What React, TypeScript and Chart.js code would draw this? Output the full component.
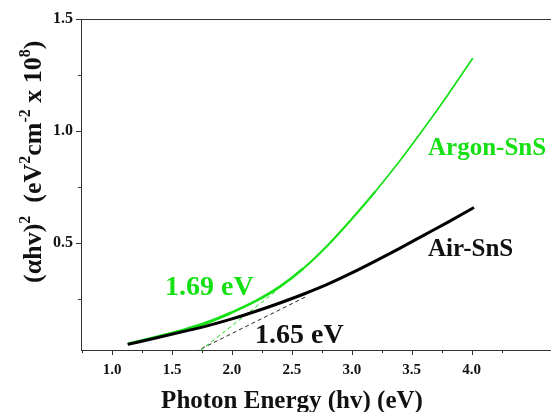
import React, { useEffect, useRef } from "react";
import { Chart, registerables } from "chart.js";

Chart.register(...registerables);

// ---- data ----
const energyArgon = [1.13, 1.4, 1.6, 1.8, 2.0, 2.2, 2.4, 2.6, 2.8, 3.0, 3.2, 3.4, 3.6, 3.8, 4.01];
const absArgon = [0.049, 0.084, 0.112, 0.146, 0.19, 0.241, 0.305, 0.388, 0.49, 0.607, 0.732, 0.866, 1.01, 1.16, 1.325];

const energyAir = [1.13, 1.4, 1.6, 1.8, 2.0, 2.2, 2.4, 2.6, 2.8, 3.0, 3.2, 3.4, 3.6, 3.8, 4.02];
const absAir = [0.047, 0.08, 0.105, 0.131, 0.161, 0.195, 0.232, 0.272, 0.316, 0.366, 0.42, 0.476, 0.534, 0.592, 0.658];

const tangentArgonX = [1.69, 2.38];
const tangentArgonY = [0, 0.29];
const tangentAirX = [1.64, 2.61];
const tangentAirY = [0, 0.258];

const xTickValues = [0.75, 1.0, 1.25, 1.5, 1.75, 2.0, 2.25, 2.5, 2.75, 3.0, 3.25, 3.5, 3.75, 4.0, 4.25];
const xLabelValues = [1.0, 1.5, 2.0, 2.5, 3.0, 3.5, 4.0];
const yTickValues = [0.25, 0.5, 0.75, 1.0, 1.25, 1.5];
const yLabelValues = [0.5, 1.0, 1.5];

const GREEN = "#14e014";
const SERIF = "'Liberation Serif', 'Times New Roman', serif";

const toPts = (xs: number[], ys: number[]) => xs.map((x, i) => ({ x, y: ys[i] }));
const isIn = (arr: number[], v: number) => arr.some((a) => Math.abs(a - v) < 1e-6);

const decorPlugin = {
  id: "decor",
  afterDraw(chart: any) {
    const ctx = chart.ctx as CanvasRenderingContext2D;
    const xs = chart.scales.x;
    const ys = chart.scales.y;
    const area = chart.chartArea;
    ctx.save();
    // top frame line
    ctx.strokeStyle = "#333";
    ctx.lineWidth = 1;
    ctx.beginPath();
    ctx.moveTo(area.left, Math.round(area.top) + 0.5);
    ctx.lineTo(area.right, Math.round(area.top) + 0.5);
    ctx.stroke();
    // x ticks
    ctx.beginPath();
    xTickValues.forEach((v) => {
      const px = Math.round(xs.getPixelForValue(v)) + 0.5;
      const len = isIn(xLabelValues, v) ? 5 : 3;
      ctx.moveTo(px, area.bottom);
      ctx.lineTo(px, area.bottom + len);
    });
    // y ticks
    yTickValues.forEach((v) => {
      const py = Math.round(ys.getPixelForValue(v)) + 0.5;
      const len = isIn(yLabelValues, v) ? 5 : 3;
      ctx.moveTo(area.left, py);
      ctx.lineTo(area.left - len, py);
    });
    ctx.stroke();

    // x title
    ctx.fillStyle = "#111";
    ctx.font = `bold 25px ${SERIF}`;
    ctx.textAlign = "center";
    ctx.textBaseline = "alphabetic";
    ctx.fillText("Photon Energy (hv) (eV)", 292, 408);

    // y title with superscripts, rotated
    const parts: { t: string; sup: boolean }[] = [
      { t: "(\u03b1hv)", sup: false },
      { t: "2", sup: true },
      { t: "  (eV", sup: false },
      { t: "2", sup: true },
      { t: "cm", sup: false },
      { t: "-2", sup: true },
      { t: " x 10", sup: false },
      { t: "8", sup: true },
      { t: ")", sup: false },
    ];
    const mainFont = `bold 26px ${SERIF}`;
    const supFont = `bold 16px ${SERIF}`;
    ctx.save();
    ctx.translate(41, 283);
    ctx.rotate(-Math.PI / 2);
    ctx.textAlign = "left";
    let cx = 0;
    parts.forEach((p) => {
      ctx.font = p.sup ? supFont : mainFont;
      ctx.fillText(p.t, cx, p.sup ? -11 : 0);
      cx += ctx.measureText(p.t).width;
    });
    ctx.restore();

    // annotations
    ctx.textAlign = "left";
    ctx.font = `bold 25px ${SERIF}`;
    ctx.fillStyle = GREEN;
    ctx.fillText("Argon-SnS", 428, 155);
    ctx.fillStyle = "#111";
    ctx.fillText("Air-SnS", 428, 256);
    ctx.font = `bold 28px ${SERIF}`;
    ctx.fillStyle = GREEN;
    ctx.fillText("1.69 eV", 165, 295);
    ctx.fillStyle = "#111";
    ctx.fillText("1.65 eV", 255, 343);
    ctx.restore();
  },
};

export default function App() {
  const ref = useRef<HTMLCanvasElement>(null);
  useEffect(() => {
    if (!ref.current) return;
    const chart = new Chart(ref.current, {
      type: "line",
      data: {
        datasets: [
          {
            label: "Air-SnS",
            data: toPts(energyAir, absAir),
            borderColor: "#000",
            borderWidth: 3,
            pointRadius: 0,
            cubicInterpolationMode: "monotone",
            fill: false,
          },
          {
            label: "Argon-SnS",
            data: toPts(energyArgon, absArgon),
            borderColor: GREEN,
            borderWidth: 2,
            pointRadius: 0,
            cubicInterpolationMode: "monotone",
            fill: false,
            segment: {
              borderWidth: (c: any) => {
                const x = c.p0.parsed.x;
                return x < 1.9 ? 3 : x < 2.5 ? 2.6 : x < 3.1 ? 2.1 : 1.7;
              },
            },
          },
          {
            label: "tangent-argon",
            data: toPts(tangentArgonX, tangentArgonY),
            borderColor: GREEN,
            borderWidth: 1,
            borderDash: [4, 3],
            pointRadius: 0,
            fill: false,
          },
          {
            label: "tangent-air",
            data: toPts(tangentAirX, tangentAirY),
            borderColor: "#222",
            borderWidth: 1,
            borderDash: [4, 3],
            pointRadius: 0,
            fill: false,
          },
        ],
      },
      options: {
        animation: false,
        responsive: false,
        events: [],
        layout: { padding: { top: 19, left: 0, right: 0, bottom: 0 } },
        plugins: { legend: { display: false }, tooltip: { enabled: false } },
        scales: {
          x: {
            type: "linear",
            min: 0.74,
            max: 4.663,
            afterBuildTicks: (s: any) => {
              s.ticks = xTickValues.map((v) => ({ value: v }));
            },
            afterFit: (s: any) => {
              s.height = 62;
            },
            grid: { display: false, drawTicks: false },
            border: { display: true, color: "#333", width: 1 },
            ticks: {
              autoSkip: false,
              maxRotation: 0,
              padding: 11,
              color: "#111",
              font: { family: SERIF, size: 15, weight: "bold" },
              callback: (v: any) => (isIn(xLabelValues, Number(v)) ? Number(v).toFixed(1) : ""),
            },
          },
          y: {
            type: "linear",
            min: 0.022,
            max: 1.5,
            afterBuildTicks: (s: any) => {
              s.ticks = yTickValues.map((v) => ({ value: v }));
            },
            afterFit: (s: any) => {
              s.width = 81;
            },
            grid: { display: false, drawTicks: false },
            border: { display: true, color: "#333", width: 1 },
            ticks: {
              autoSkip: false,
              padding: 8,
              color: "#111",
              font: { family: SERIF, size: 16, weight: "bold" },
              callback: (v: any) => (isIn(yLabelValues, Number(v)) ? Number(v).toFixed(1) : ""),
            },
          },
        },
      },
      plugins: [decorPlugin],
    } as any);
    return () => chart.destroy();
  }, []);
  return (
    <div style={{ position: "absolute", left: 0, top: 0, width: 551, height: 412, background: "#fff" }}>
      <canvas ref={ref} width={551} height={412} style={{ display: "block" }} />
    </div>
  );
}
